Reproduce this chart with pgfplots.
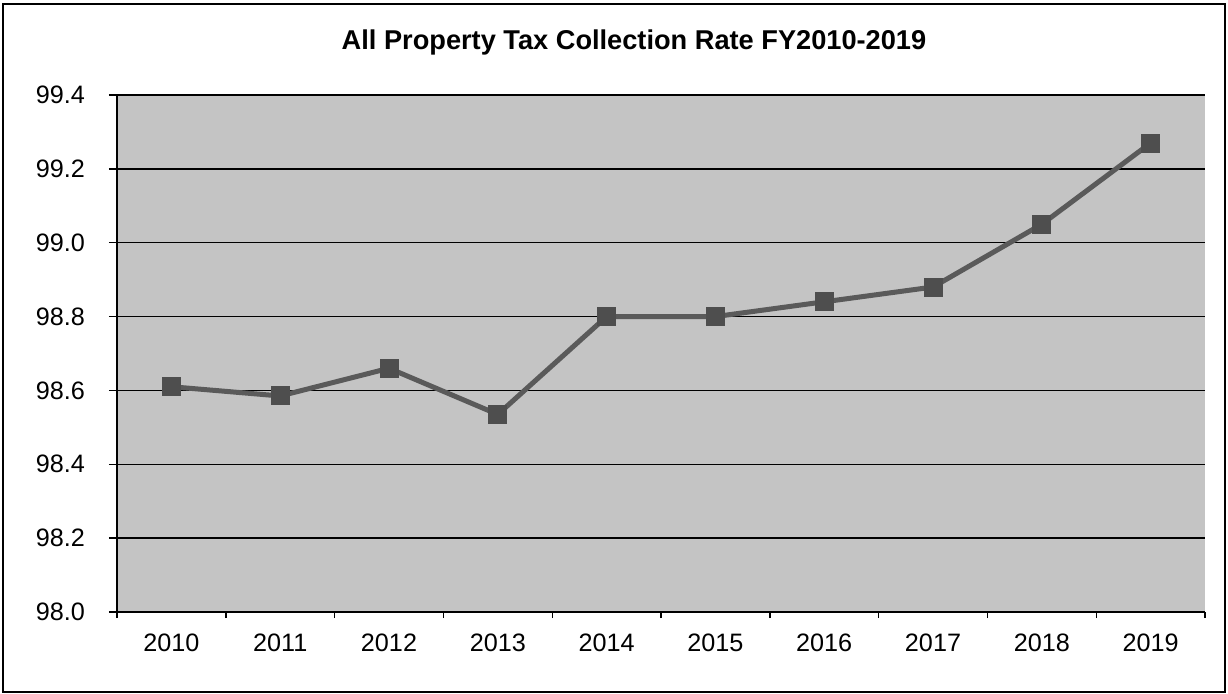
\documentclass[border=0pt]{standalone}
\usepackage{pgfplots}
\pgfplotsset{compat=1.18}
\usepackage{fontspec}
\setmainfont{Liberation Sans}
\definecolor{bg}{HTML}{C4C4C4}
\definecolor{ln}{HTML}{5A5A5A}
\definecolor{mk}{HTML}{4E4E4E}
\begin{document}
\begin{tikzpicture}
\path[use as bounding box] (0,0) rectangle (614pt,346.5pt);
\draw[line width=0.8pt] (1.5pt,0.5pt) rectangle (612.5pt,344.5pt);
\node[font=\fontsize{13.6}{15}\selectfont\bfseries] at (317pt,325.5pt) {All Property Tax Collection Rate FY2010-2019};
\begin{axis}[
  at={(58.5pt,40.5pt)}, anchor=south west,
  scale only axis, width=544pt, height=258.5pt,
  xmin=-0.5, xmax=9.5, ymin=98, ymax=99.4,
  axis background/.style={fill=bg},
  axis x line*=bottom, axis y line*=left,
  axis line style={line width=1pt, black},
  xtick={0,1,2,3,4,5,6,7,8,9},
  xticklabels={2010,2011,2012,2013,2014,2015,2016,2017,2018,2019},
  major x tick style={draw=none},
  minor xtick={-0.5,0.5,1.5,2.5,3.5,4.5,5.5,6.5,7.5,8.5,9.5},
  minor tick length=3pt,
  major tick length=4pt,
  tick align=outside,
  tick style={black, line width=0.7pt},
  ytick={98.0,98.2,98.4,98.6,98.8,99.0,99.2,99.4},
  yticklabel style={xshift=-8.5pt, /pgf/number format/.cd, fixed, precision=1, zerofill},
  xticklabel style={yshift=-3.5pt},
  /pgf/number format/assume math mode=true,
  ymajorgrids,
  grid style={black, line width=0.7pt},
  tick label style={font=\fontsize{12.6}{14}\selectfont},
  clip=false,
]
\addplot[ln, line width=2.5pt, mark=square*, mark size=4.5pt,
  mark options={fill=mk, draw=mk, line width=0pt}]
  coordinates {(0,98.61) (1,98.585) (2,98.66) (3,98.535) (4,98.80) (5,98.80) (6,98.84) (7,98.88) (8,99.05) (9,99.27)};
\end{axis}
\end{tikzpicture}
\end{document}
